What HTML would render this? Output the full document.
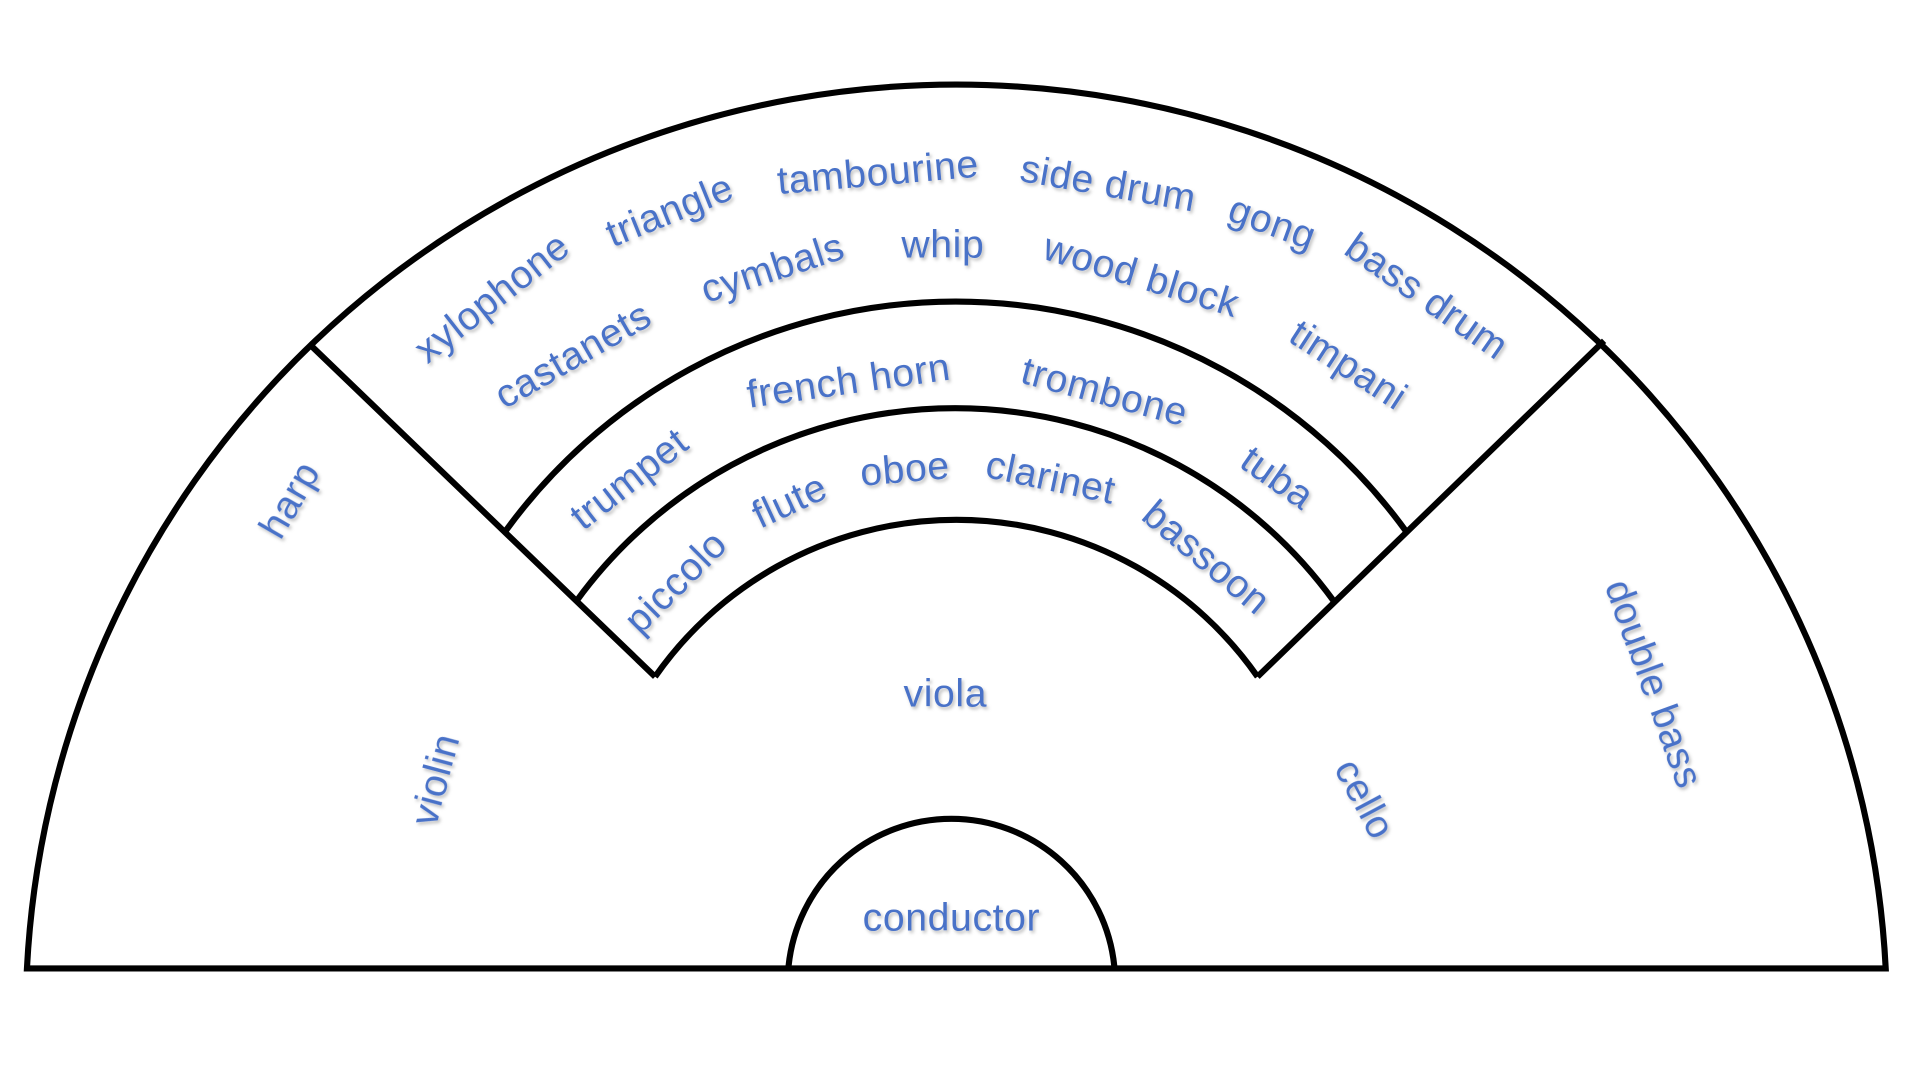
<!DOCTYPE html>
<html><head><meta charset="utf-8"><style>html,body{margin:0;padding:0;background:#fff;}svg{display:block}</style></head>
<body>
<svg width="1920" height="1080" viewBox="0 0 1568 881" preserveAspectRatio="none" xmlns="http://www.w3.org/2000/svg">
<defs><filter id="sh" x="-10%" y="-10%" width="130%" height="140%"><feDropShadow dx="1.5" dy="2" stdDeviation="1.2" flood-color="#000" flood-opacity="0.25"/></filter></defs>
<g fill="none" stroke="#000" stroke-width="5" stroke-linejoin="miter">
<path d="M22,790 A760,760 0 0 1 1540,790 Z"/>
<path d="M252,280 L535,552"/>
<path d="M1310,278 L1027,552"/>
<path d="M413,433 A454.6,454.6 0 0 1 1148,433"/>
<path d="M471,490 A382.6,382.6 0 0 1 1089,490"/>
<path d="M535,552 A300.4,300.4 0 0 1 1027,552"/>
<path d="M644,788 A133.7,133.7 0 0 1 910,788"/>
</g>
<g fill="#4a72c8" font-family="Liberation Sans, sans-serif" font-size="32" letter-spacing="0.5" text-anchor="middle" dominant-baseline="central" filter="url(#sh)">
<text transform="translate(402,243) rotate(-38)">xylophone</text>
<text transform="translate(547,172) rotate(-22)">triangle</text>
<text transform="translate(717,141) rotate(-5)">tambourine</text>
<text transform="translate(905,150) rotate(10)">side drum</text>
<text transform="translate(1039,182) rotate(20)">gong</text>
<text transform="translate(1165,242) rotate(35)">bass drum</text>
<text transform="translate(468,290) rotate(-30)">castanets</text>
<text transform="translate(631,219) rotate(-18)">cymbals</text>
<text transform="translate(770,200)">whip</text>
<text transform="translate(932,225) rotate(17)">wood block</text>
<text transform="translate(1101,298) rotate(33)">timpani</text>
<text transform="translate(514,391) rotate(-38)">trumpet</text>
<text transform="translate(693,311) rotate(-8)">french horn</text>
<text transform="translate(902,320) rotate(15)">trombone</text>
<text transform="translate(1043,390) rotate(35)">tuba</text>
<text transform="translate(552,475) rotate(-45)">piccolo</text>
<text transform="translate(645,409) rotate(-25)">flute</text>
<text transform="translate(739,383) rotate(-5)">oboe</text>
<text transform="translate(858,390) rotate(12)">clarinet</text>
<text transform="translate(985,455) rotate(40)">bassoon</text>
<text transform="translate(237,408) rotate(-60)">harp</text>
<text transform="translate(356,636) rotate(-75)">violin</text>
<text transform="translate(772,566)">viola</text>
<text transform="translate(1114,652) rotate(62)">cello</text>
<text transform="translate(1350,558) rotate(70)">double bass</text>
<text transform="translate(777,749)">conductor</text>
</g>
</svg>
</body></html>
